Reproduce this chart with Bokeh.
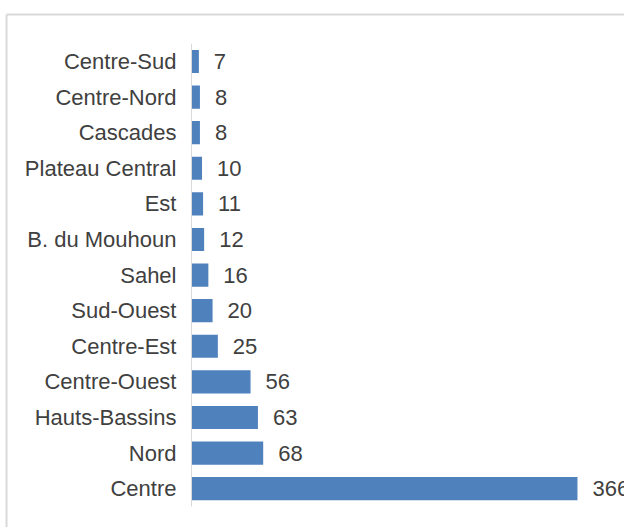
from bokeh.plotting import figure
from bokeh.models import ColumnDataSource, Range1d
from bokeh.core.properties import value
from bokeh.embed import file_html
from bokeh.resources import INLINE

regions = ["Centre-Sud", "Centre-Nord", "Cascades", "Plateau Central", "Est",
           "B. du Mouhoun", "Sahel", "Sud-Ouest", "Centre-Est", "Centre-Ouest",
           "Hauts-Bassins", "Nord", "Centre"]
counts = [7, 8, 8, 10, 11, 12, 16, 20, 25, 56, 63, 68, 366]

FONT = "Liberation Sans"
TXT = "#404040"

pos = list(range(len(regions)))
src = ColumnDataSource(dict(pos=pos, region=regions, count=counts,
                            zero=[0] * len(counts),
                            label=[str(c) for c in counts]))

X0, X1 = -181.1, 410.6
Y0, Y1 = 13.09, -1.713

# frame covers the whole canvas; scales chosen so that the axis sits at x=191
p = figure(width=624, height=527,
           x_range=Range1d(X0, X1), y_range=Range1d(Y0, Y1),
           output_backend="svg", toolbar_location=None,
           x_axis_location=None, y_axis_location=None,
           min_border=0)
p.xgrid.grid_line_color = None
p.ygrid.grid_line_color = None
p.outline_line_color = None

# chart-area border (only top and left edges fall inside the picture)
bx = X0 + 6 / 624 * (X1 - X0)
by = Y1 + 14 / 527 * (Y0 - Y1)
p.segment(x0=[bx, bx], y0=[by, by], x1=[X1 + 10, bx], y1=[by, Y0 + 1],
          line_color="#d9d9d9", line_width=2)

p.hbar(y="pos", right="count", left="zero", height=0.65, source=src,
       fill_color="#4f81bd", line_color=None)

# category axis line
p.segment(x0=[0], y0=[-0.5], x1=[0], y1=[len(regions) - 0.5],
          line_color="#d9d9d9", line_width=1)

# category labels
p.text(x="zero", y="pos", text="region", source=src, x_offset=-15,
       text_baseline="middle", text_align="right", text_font=value(FONT),
       text_font_size="22px", text_color=TXT)

# value labels
p.text(x="count", y="pos", text="label", source=src, x_offset=15,
       text_baseline="middle", text_align="left", text_font=value(FONT),
       text_font_size="22px", text_color=TXT)

open("out.html", "w").write(file_html(p, INLINE))
